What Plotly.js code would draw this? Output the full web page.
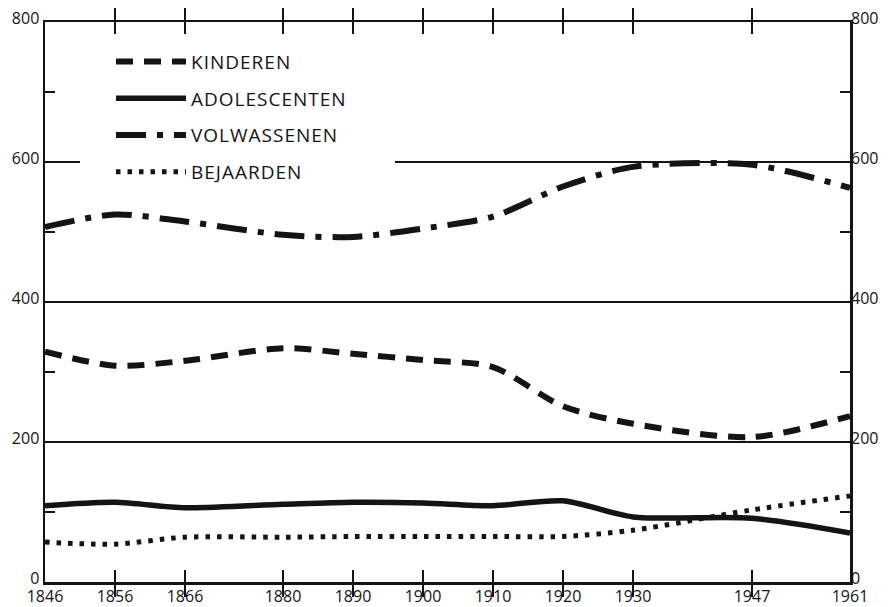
<!DOCTYPE html>
<html>
<head>
<meta charset="utf-8">
<script src="https://cdn.plot.ly/plotly-3.0.1.min.js"></script>
<style>html,body{margin:0;padding:0;background:#fff;}#chart{width:888px;height:607px;}
.legendtext{letter-spacing:1px;}</style>
</head>
<body>
<div id="chart"></div>
<script>
const years = [1846, 1856, 1866, 1880, 1890, 1900, 1910, 1920, 1930, 1947, 1961];
const yearLabels = ["1846", "1856", "1866", "1880", "1890", "1900", "1910", "1920", "1930", "1947", "1961"];
const kinderen     = [329, 309, 316, 334, 326, 317, 307, 251, 226, 207, 237];
const adolescenten = [109, 114, 106, 111, 114, 113, 109, 116, 93, 91, 70];
const volwassenen  = [507, 525, 515, 496, 493, 505, 522, 565, 593, 596, 563];
const bejaarden    = [57, 54, 64, 64, 65, 65, 65, 65, 74, 103, 123];
const seriesNames  = ["KINDEREN", "ADOLESCENTEN", "VOLWASSENEN", "BEJAARDEN"];
const yTicks = [0, 200, 400, 600, 800];
const yMinor = [100, 300, 500, 700];

const ink = '#141414';
const fontFam = '"Open Sans", Lato, sans-serif';

function tr(name, vals, width, dash, group) {
  return {
    x: years, y: vals, name: name, type: 'scatter', mode: 'lines',
    legendgroup: group,
    line: {color: ink, width: width, dash: dash, shape: 'spline', smoothing: 0.8}
  };
}

const data = [
  tr(seriesNames[0], kinderen, 6, '17px,11px', 'a'),
  tr(seriesNames[1], adolescenten, 5.5, 'solid', 'b'),
  tr(seriesNames[2], volwassenen, 6, '30px,11px,6px,11px', 'c'),
  tr(seriesNames[3], bejaarden, 5, '4.5px,7px', 'd')
];

const layout = {
  width: 888, height: 607,
  margin: {l: 45, r: 38, t: 22, b: 25},
  paper_bgcolor: '#fff', plot_bgcolor: '#fff',
  font: {family: fontFam, color: ink, size: 16},
  showlegend: true,
  legend: {
    x: 0.082, y: 0.963, xanchor: 'left', yanchor: 'top',
    bgcolor: '#fff', borderwidth: 0,
    font: {family: fontFam, size: 19, color: ink},
    itemwidth: 70, tracegroupgap: 9,
    itemclick: false
  },
  shapes: [{
    type: 'rect', xref: 'x', yref: 'y', layer: 'between',
    x0: 1851, x1: 1896, y0: 590, y1: 610,
    fillcolor: '#fff', line: {width: 0}
  }],
  xaxis: {
    range: [1846, 1961], tickmode: 'array', tickvals: years, ticktext: yearLabels,
    showgrid: false, zeroline: false,
    showline: true, linecolor: ink, linewidth: 2.5, mirror: 'allticks',
    ticks: 'inside', ticklen: 12, tickwidth: 1.5, tickcolor: ink,
    tickfont: {family: fontFam, size: 16, color: ink}, ticklabelstandoff: -2
  },
  yaxis: {
    range: [0, 800], tickmode: 'array', tickvals: yTicks,
    showgrid: true, gridcolor: ink, gridwidth: 1.5, zeroline: false,
    showline: true, linecolor: ink, linewidth: 2.5, mirror: 'allticks',
    ticks: '', tickfont: {family: fontFam, size: 16, color: ink}, ticklabelshift: -4,
    minor: {tickmode: 'array', tickvals: yMinor, ticks: 'inside', ticklen: 10, tickwidth: 1.5, tickcolor: ink, showgrid: false}
  },
  yaxis2: {
    range: [0, 800], tickmode: 'array', tickvals: yTicks, overlaying: 'y', side: 'right', anchor: 'x',
    showgrid: false, zeroline: false, showline: false, ticks: '', ticklabelshift: -4,
    tickfont: {family: fontFam, size: 16, color: ink}
  }
};

data.push({x: [years[0]], y: [yTicks[0]], yaxis: 'y2', type: 'scatter', mode: 'markers', marker: {opacity: 0}, showlegend: false, hoverinfo: 'skip'});

Plotly.newPlot('chart', data, layout, {displayModeBar: false, staticPlot: true});
</script>
</body>
</html>
